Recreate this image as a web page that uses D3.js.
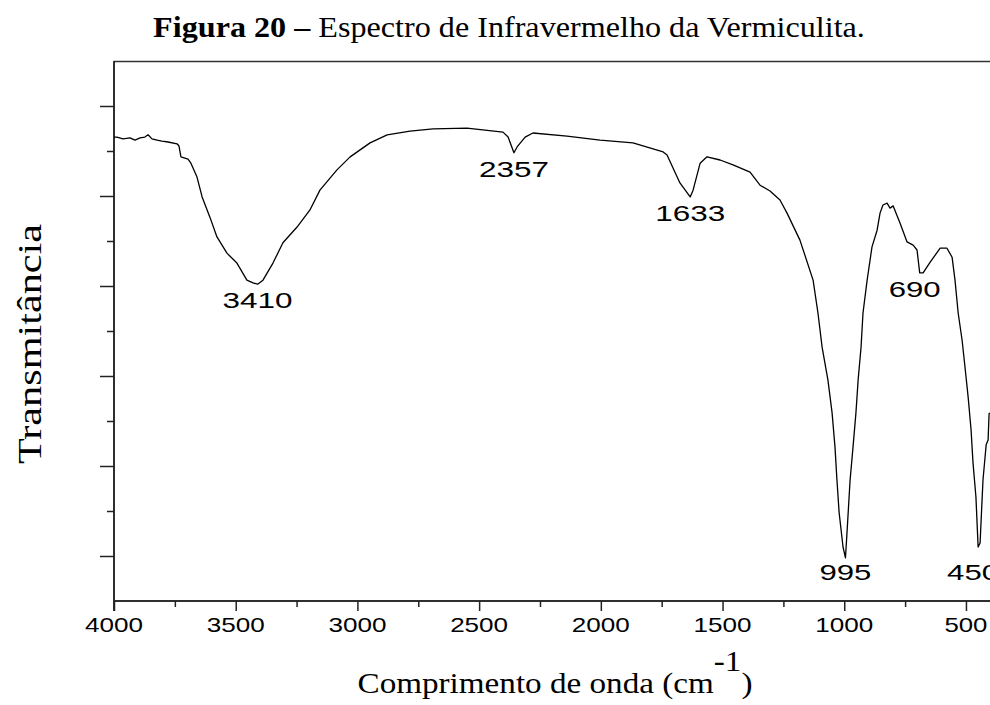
<!DOCTYPE html>
<html>
<head>
<meta charset="utf-8">
<script src="https://cdn.jsdelivr.net/npm/d3@7"></script>
<style>
body{margin:0;background:#fff}
</style>
</head>
<body>
<svg id="chart" width="990" height="705"></svg>
<script>
// spectrum (cm-1, arbitrary transmittance units)
var wavenumber = [4000,3988,3963,3934,3914,3893,3873,3860,3844,3823,3803,3778,3741,3733,3725,3696,3684,
  3659,3638,3606,3577,3536,3495,3454,3429,3410,3388,3347,3306,3248,3195,3154,3084,3030,2948,2878,2784,
  2689,2550,2402,2381,2357,2344,2311,2279,2139,2003,1868,1744,1728,1675,1633,1621,1592,1564,1510,1457,
  1387,1346,1305,1264,1235,1182,1128,1108,1091,1067,1050,1038,1030,1021,1005,995,988,976,964,952,943,931,
  923,906,886,865,853,841,824,812,799,771,742,717,701,690,676,647,606,578,557,545,532,516,504,491,479,471,
  459,450,442,430,417,409,405,401];
var transmittance = [103.1,103.1,102.7,102.9,102.4,102.9,103.1,103.6,102.7,102.4,102.2,102.0,101.6,101.1,98.7,98.2,97.3,
  94.2,89.8,85.3,80.9,77.3,75.1,71.3,70.7,70.4,71.3,75.1,79.6,83.1,86.9,91.3,95.8,98.7,101.8,103.6,104.4,
  104.9,105.1,104.2,103.1,99.6,100.9,103.1,104.0,103.3,102.4,101.8,99.8,99.1,92.9,89.8,91.3,97.3,98.7,98.0,96.9,
  95.3,92.4,91.1,89.1,86.2,80.2,71.3,64.0,56.4,49.1,41.8,34.2,26.9,19.6,12.0,9.6,15.8,26.9,34.2,41.8,49.1,56.4,
  64.0,71.3,78.7,82.4,86.2,88.0,88.4,87.3,87.8,84.0,79.8,79.1,78.0,72.9,72.9,75.3,78.4,78.4,76.4,71.3,64.0,58.0,52.0,45.3,38.0,30.7,
  23.1,12.0,12.9,26.9,34.7,35.8,41.6,41.8];
var peaks = [3410, 2357, 1633, 995, 690, 450];
var xTicks = [4000, 3500, 3000, 2500, 2000, 1500, 1000, 500];
var xMinorTicks = [3750, 3250, 2750, 2250, 1750, 1250, 750];
var yTicks = [10, 30, 50, 70, 90, 110];
var yMinorTicks = [20, 40, 60, 80, 100];

var svg = d3.select("#chart");
var mLeft = 114, mTop = 61, mBottom = 601, mRight = 990.3;

var x = d3.scaleLinear().domain([4000, 400]).range([mLeft, mRight]);
var y = d3.scaleLinear().domain([0, 120]).range([mBottom, mTop]);

var spectrum = wavenumber.map(function(w, i){ return {w: w, t: transmittance[i]}; });

// title
var title = svg.append("text")
    .attr("x", 509).attr("y", 37)
    .attr("text-anchor", "middle")
    .attr("font-family", "'Liberation Serif', 'Times New Roman', serif")
    .attr("font-size", 29)
    .attr("fill", "#000");
title.append("tspan").attr("font-weight", "bold").text("Figura 20 \u2013");
title.append("tspan").text(" Espectro de Infravermelho da Vermiculita.");
var tw = title.node().getBBox().width;
title.attr("transform", "translate(509,0) scale(" + (712 / tw) + ",1) translate(-509,0)");

// frame: top line
svg.append("line")
    .attr("x1", mLeft).attr("x2", 990).attr("y1", mTop + 0.5).attr("y2", mTop + 0.5)
    .attr("stroke", "#333").attr("stroke-width", 1.5);

// x axis
var gx = svg.append("g").attr("transform", "translate(0," + mBottom + ")");
gx.call(d3.axisBottom(x).tickValues(xTicks).tickSize(10).tickFormat(""));
gx.append("g").call(d3.axisBottom(x).tickValues(xMinorTicks).tickSize(6).tickFormat(""));
gx.selectAll(".domain").attr("d", "M" + mLeft + ",0H990");
gx.selectAll("line, path").attr("stroke", "#222").attr("stroke-width", 1.5);
gx.selectAll(".lbl")
    .data(xTicks)
    .enter().append("text")
    .attr("class", "lbl")
    .attr("x", function(d){ return x(d); })
    .attr("y", 31)
    .attr("text-anchor", "middle")
    .attr("font-family", "'Liberation Sans', Arial, sans-serif")
    .attr("font-size", 21)
    .attr("fill", "#000")
    .attr("textLength", function(d){ return String(d).length > 3 ? 58 : 43; })
    .attr("lengthAdjust", "spacingAndGlyphs")
    .text(function(d){ return d; });

// y axis (no labels)
var gy = svg.append("g").attr("transform", "translate(" + mLeft + ",0)");
gy.call(d3.axisLeft(y).tickValues(yTicks).tickSize(14).tickFormat(""));
gy.append("g").call(d3.axisLeft(y).tickValues(yMinorTicks).tickSize(7).tickFormat(""));
gy.selectAll(".domain").attr("d", "M0," + mTop + "V" + (mBottom + 10));
gy.selectAll("line, path").attr("stroke", "#222").attr("stroke-width", 1.5);

// spectrum line
svg.append("path")
    .datum(spectrum)
    .attr("fill", "none")
    .attr("stroke", "#000")
    .attr("stroke-width", 1.3)
    .attr("stroke-linejoin", "round")
    .attr("d", d3.line().x(function(d){ return x(d.w); }).y(function(d){ return y(d.t); }));

// peak labels
svg.selectAll(".peak")
    .data(peaks)
    .enter().append("text")
    .attr("class", "peak")
    .attr("x", function(d){ return x(d) - (d < 700 ? 5 : 0); })
    .attr("y", function(d){
        var p = spectrum.find(function(s){ return s.w === d; });
        var yy = y(p.t) + 24;
        return yy > 540 ? 580 : yy;   // deep bands share a baseline
    })
    .attr("text-anchor", "middle")
    .attr("font-family", "'Liberation Sans', Arial, sans-serif")
    .attr("font-size", 22)
    .attr("fill", "#000")
    .attr("textLength", function(d){ return String(d).length > 3 ? 70 : 52; })
    .attr("lengthAdjust", "spacingAndGlyphs")
    .text(function(d){ return d; });

// x axis title
var xt = svg.append("text")
    .attr("x", 555).attr("y", 693)
    .attr("text-anchor", "middle")
    .attr("font-family", "'Liberation Serif', 'Times New Roman', serif")
    .attr("font-size", 30)
    .attr("fill", "#000");
xt.append("tspan").text("Comprimento de onda (cm");
xt.append("tspan").attr("font-size", 30).attr("dy", -22).text("-1");
xt.append("tspan").attr("dy", 22).text(")");
var xw = xt.node().getBBox().width;
xt.attr("transform", "translate(555,0) scale(" + (395 / xw) + ",1) translate(-555,0)");

// y axis title
svg.append("text")
    .attr("transform", "translate(41,344) rotate(-90)")
    .attr("text-anchor", "middle")
    .attr("font-family", "'Liberation Serif', 'Times New Roman', serif")
    .attr("font-size", 34)
    .attr("fill", "#000")
    .attr("textLength", 240)
    .attr("lengthAdjust", "spacingAndGlyphs")
    .text("Transmitância");
</script>
</body>
</html>
